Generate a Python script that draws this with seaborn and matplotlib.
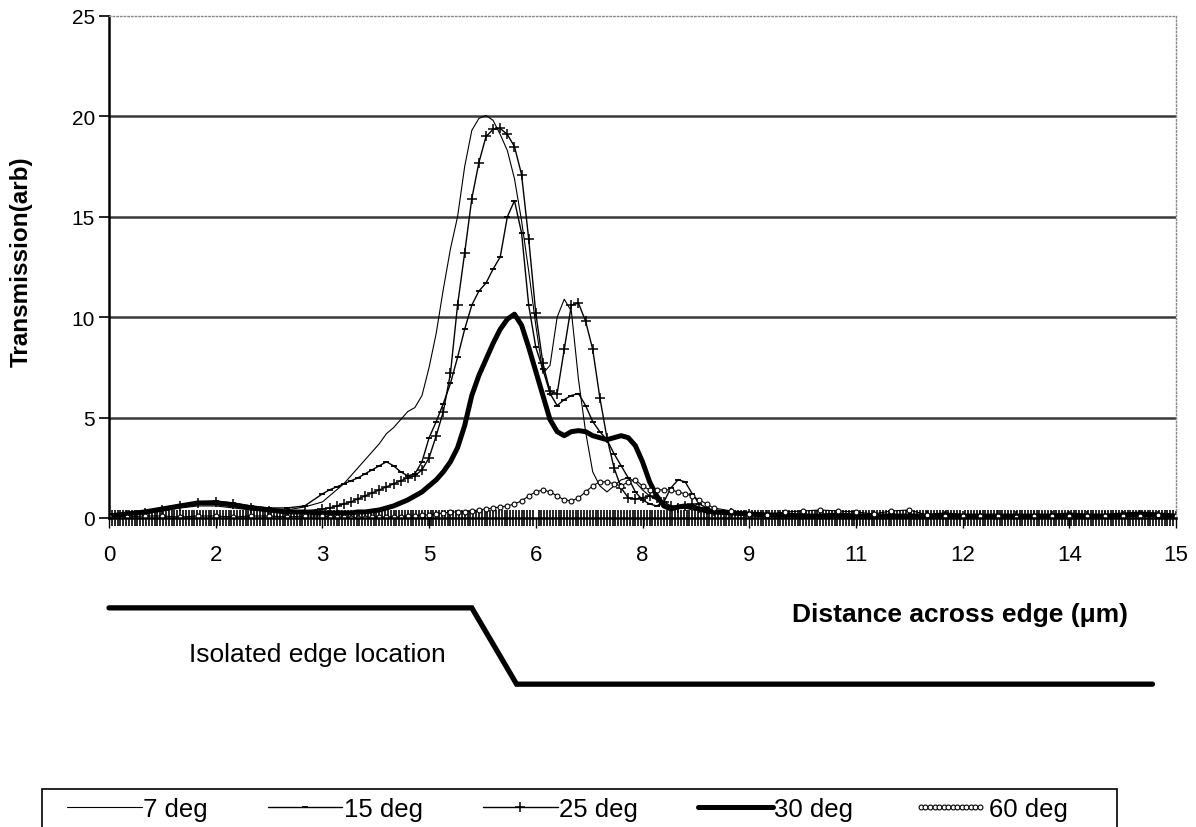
import numpy as np
import matplotlib
matplotlib.use('Agg')
import matplotlib.pyplot as plt
import matplotlib.transforms as mtransforms
from matplotlib.patches import Rectangle
from matplotlib.legend_handler import HandlerLine2D
import seaborn as sns

# distance across the edge (um): coarse at the ends, finer around the peaks
distance = np.round(np.concatenate([np.arange(0, 3, 0.25),
                                    np.arange(3, 8.45, 0.1),
                                    np.arange(8.5, 15.01, 0.25)]), 2)

# transmission, one list per angle
t_7deg = [0.1, 0.15, 0.2, 0.35, 0.5, 0.6, 0.6, 0.5, 0.4, 0.35, 0.4, 0.55,
          0.8, 1.1, 1.4, 1.7, 2.1, 2.5, 2.9, 3.3, 3.7, 4.2,
          4.5, 4.9, 5.3, 5.5, 6.1, 7.5, 9.2, 11.4, 13.4, 15.0,
          17.5, 19.3, 19.9, 20.05, 19.8, 19.1, 18.3, 16.9, 14.8, 12.3,
          9.6, 7.2, 7.6, 10.0, 10.9, 10.3, 6.9, 4.3, 2.3, 1.6,
          1.3, 1.6, 1.9, 2.0, 1.8, 1.4, 1.1, 0.9, 0.7, 0.6,
          0.5, 0.5, 0.4, 0.4, 0.3,
          0.3, 0.2, 0.15, 0.1, 0.1, 0.15, 0.1, 0.1, 0.05, 0.1, 0.1, 0.1, 0.05, 0.1,
          0.1, 0.1, 0.05, 0.1, 0.1, 0.1, 0.1, 0.05, 0.1, 0.1, 0.1, 0.1, 0.1]

t_15deg = [0.1, 0.2, 0.3, 0.45, 0.65, 0.8, 0.85, 0.75, 0.6, 0.5, 0.5, 0.6,
           1.2, 1.4, 1.55, 1.7, 1.85, 2.0, 2.2, 2.4, 2.6, 2.8,
           2.6, 2.3, 2.1, 2.2, 2.8, 4.0, 4.8, 5.7, 6.7, 8.0,
           9.4, 10.6, 11.3, 11.7, 12.4, 13.0, 15.0, 15.8, 14.2, 10.6,
           8.5, 7.4, 6.2, 5.6, 5.9, 6.1, 6.2, 5.6, 4.8, 4.3,
           3.9, 3.2, 2.6, 2.0, 1.3, 0.9, 0.7, 0.6, 0.8, 1.5,
           1.9, 1.8, 1.2, 0.7, 0.5,
           0.4, 0.3, 0.2, 0.2, 0.15, 0.1, 0.15, 0.1, 0.1, 0.15, 0.1, 0.1, 0.1, 0.1,
           0.15, 0.1, 0.1, 0.1, 0.1, 0.15, 0.1, 0.1, 0.1, 0.15, 0.1, 0.1, 0.1]

t_25deg = [0.1, 0.15, 0.25, 0.4, 0.6, 0.75, 0.8, 0.7, 0.5, 0.35, 0.3, 0.35,
           0.45, 0.5, 0.6, 0.7, 0.8, 0.95, 1.1, 1.25, 1.4, 1.55,
           1.7, 1.85, 2.0, 2.1, 2.4, 3.0, 4.1, 5.3, 7.2, 10.6,
           13.2, 15.9, 17.7, 19.0, 19.35, 19.4, 19.1, 18.5, 17.1, 13.9,
           10.2, 7.7, 6.3, 6.2, 8.4, 10.6, 10.7, 9.8, 8.4, 6.0,
           4.0, 2.5, 1.5, 1.0, 0.95, 1.0, 1.1, 1.0, 0.8, 0.6,
           0.5, 0.6, 0.7, 0.5, 0.4,
           0.35, 0.25, 0.2, 0.15, 0.1, 0.15, 0.1, 0.1, 0.15, 0.1, 0.1, 0.1, 0.1, 0.1,
           0.1, 0.1, 0.15, 0.1, 0.1, 0.1, 0.1, 0.1, 0.1, 0.1, 0.15, 0.1, 0.1]

t_30deg = [0.1, 0.2, 0.3, 0.45, 0.6, 0.75, 0.75, 0.65, 0.5, 0.4, 0.3, 0.3,
           0.25, 0.25, 0.25, 0.25, 0.25, 0.3, 0.3, 0.35, 0.4, 0.5,
           0.6, 0.75, 0.9, 1.1, 1.3, 1.6, 1.9, 2.3, 2.8, 3.5,
           4.6, 6.1, 7.1, 7.9, 8.7, 9.4, 9.9, 10.15, 9.6, 8.5,
           7.3, 6.1, 4.9, 4.3, 4.1, 4.3, 4.35, 4.3, 4.1, 4.0,
           3.9, 4.0, 4.1, 4.0, 3.6, 2.8, 1.8, 1.1, 0.6, 0.45,
           0.55, 0.6, 0.55, 0.45, 0.35,
           0.3, 0.25, 0.2, 0.15, 0.15, 0.1, 0.1, 0.15, 0.1, 0.1, 0.1, 0.1, 0.1, 0.15,
           0.1, 0.1, 0.1, 0.1, 0.1, 0.1, 0.15, 0.1, 0.1, 0.15, 0.2, 0.15, 0.1]

t_60deg = [0.1, 0.05, 0.1, 0.1, 0.05, 0.1, 0.1, 0.05, 0.1, 0.1, 0.05, 0.1,
           0.1, 0.05, 0.05, 0.05, 0.0, 0.0, 0.0, 0.05, 0.05, 0.05,
           0.05, 0.05, 0.1, 0.1, 0.15, 0.15, 0.2, 0.25, 0.3, 0.3,
           0.3, 0.35, 0.4, 0.45, 0.5, 0.55, 0.6, 0.7, 0.85, 1.1,
           1.3, 1.4, 1.3, 1.1, 0.9, 0.85, 1.0, 1.3, 1.6, 1.8,
           1.8, 1.7, 1.6, 1.8, 1.9, 1.6, 1.4, 1.4, 1.4, 1.4,
           1.3, 1.2, 1.1, 0.9, 0.7,
           0.5, 0.35, 0.2, 0.15, 0.3, 0.35, 0.4, 0.35, 0.3, 0.2, 0.35, 0.4, 0.15, 0.1,
           0.1, 0.1, 0.1, 0.05, 0.1, 0.1, 0.1, 0.1, 0.1, 0.1, 0.1, 0.15, 0.1]

series_names = ['7 deg', '15 deg', '25 deg', '30 deg', '60 deg']
series_values = [t_7deg, t_15deg, t_25deg, t_30deg, t_60deg]

x_ticks = np.arange(0, 15.01, 1.5)
x_tick_labels = ['0', '2', '3', '5', '6', '8', '9', '11', '12', '14', '15']
y_ticks = [0, 5, 10, 15, 20, 25]

# sketch of the edge profile under the axis (x in data units)
edge_x = [0, 5.1, 5.73, 14.67]
edge_level = [-0.179, -0.179, -0.331, -0.331]

styles = {
    '7 deg': dict(lw=0.8),
    '15 deg': dict(lw=1.0, marker='_', ms=5, mew=1.3, mec='black'),
    '25 deg': dict(lw=1.0, marker='+', ms=7, mew=1.1, mec='black'),
    '30 deg': dict(lw=3.6),
    '60 deg': dict(lw=0.8, marker='o', ms=3.5, mfc='white', mec='black', mew=0.8),
}

sns.set_style('white')
plt.rcParams['font.family'] = ['Liberation Sans', 'DejaVu Sans']
plt.rcParams['text.color'] = 'black'
plt.rcParams['axes.labelcolor'] = 'black'
plt.rcParams['xtick.color'] = 'black'
plt.rcParams['ytick.color'] = 'black'

fig = plt.figure(figsize=(11.96, 8.28), dpi=100)
ax = fig.add_axes([109 / 1196, 1 - 519 / 828, 1067 / 1196, 502 / 828])

for name, vals in zip(series_names, series_values):
    sns.lineplot(x=distance, y=vals, ax=ax, color='black', label=name, **styles[name])

ax.set_xlim(0, 15)
ax.set_ylim(0, 25)
ax.set_xticks(x_ticks)
ax.set_xticklabels(x_tick_labels, fontsize=16)
ax.set_yticks(y_ticks)
ax.tick_params(axis='y', labelsize=15, direction='out', length=7, width=1.2, left=True, pad=3)
ax.tick_params(axis='x', direction='out', length=7, width=1.0, bottom=True, pad=12)
ax.set_xticks(np.arange(0, 15.01, 0.04), minor=True)
ax.tick_params(axis='x', which='minor', direction='inout', length=11, width=1.2, bottom=True)

ax.yaxis.grid(True, color='#3a3a3a', lw=1.8)
gl = ax.get_ygridlines()
gl[0].set_visible(False)
gl[-1].set_visible(False)

for s in ['left', 'bottom']:
    ax.spines[s].set_color('black')
    ax.spines[s].set_linewidth(1.8)
for s in ['top', 'right']:
    ax.spines[s].set_color('#888888')
    ax.spines[s].set_linestyle(':')
    ax.spines[s].set_linewidth(1.0)

ax.set_xlabel('')
ax.set_ylabel('Transmission(arb)', fontsize=17.5, fontweight='bold')
ax.yaxis.set_label_coords(-0.071, 0.512)

trans = mtransforms.blended_transform_factory(ax.transData, ax.transAxes)
ax.plot(edge_x, edge_level, transform=trans, color='black', lw=3.8, clip_on=False,
        solid_joinstyle='miter')
ax.text(0.195, -0.271, 'Isolated edge location', transform=ax.transAxes,
        ha='center', va='center', fontsize=19)
ax.text(0.955, -0.191, 'Distance across edge (\u03bcm)', transform=ax.transAxes,
        ha='right', va='center', fontsize=19, fontweight='bold')

handles, labels = ax.get_legend_handles_labels()
ax.get_legend().remove()
leg = fig.legend(handles, labels, loc='center left', bbox_to_anchor=(67 / 1196, 1 - 810 / 828),
                 ncol=5, frameon=False, fontsize=18.5,
                 handlelength=2.9, handletextpad=0.05, columnspacing=2.35,
                 borderpad=0, borderaxespad=0,
                 handler_map={handles[4]: HandlerLine2D(numpoints=14)})
# legend box runs off the bottom of the picture, as in the original
fig.add_artist(Rectangle((42 / 1196, -0.05), (1117 - 42) / 1196, 1 - 790 / 828 + 0.05,
                         transform=fig.transFigure, fill=False, edgecolor='black', lw=1.2))

fig.savefig('out.png', dpi=100)
